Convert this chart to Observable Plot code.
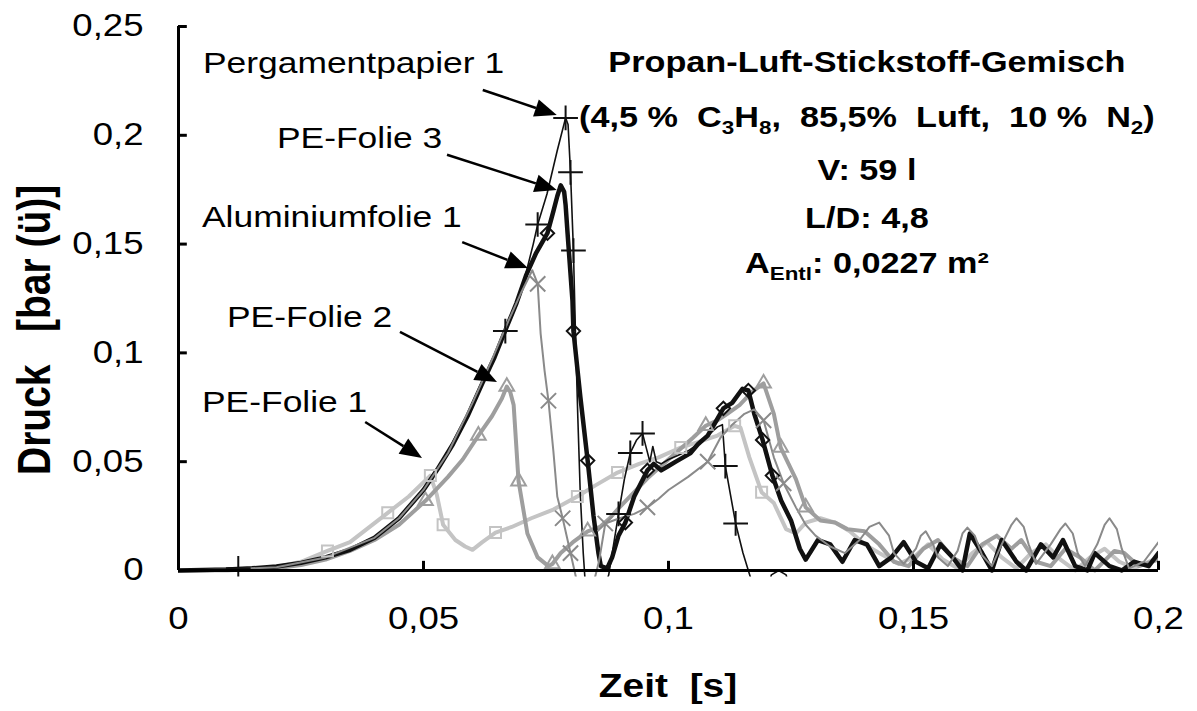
<!DOCTYPE html>
<html>
<head>
<meta charset="utf-8">
<script src="https://cdn.jsdelivr.net/npm/d3@7"></script>
<script src="https://cdn.jsdelivr.net/npm/@observablehq/plot@0.6"></script>
<style>
  body { margin: 0; background: #fff; }
  #chart svg { font-family: "Liberation Sans", Arial, sans-serif; }
</style>
</head>
<body>
<div id="chart"></div>
<script>
// Axis ticks (time in s, overpressure in bar)
const xTicks = [0, 0.05, 0.1, 0.15, 0.2];
const yTicks = [0, 0.05, 0.1, 0.15, 0.2, 0.25];

// Pressure curves [Zeit s, Druck bar(ü)] for each venting membrane
const pergamentpapier1 = [
  [0, 0], [0.005, 0], [0.01, 0.0005], [0.0122, 0.001], [0.015, 0.001], [0.02, 0.002], [0.025, 0.0035],
  [0.03, 0.006], [0.035, 0.0095], [0.04, 0.015], [0.045, 0.024], [0.05, 0.037], [0.053, 0.047],
  [0.056, 0.059], [0.059, 0.072], [0.062, 0.087], [0.0645, 0.099], [0.0667, 0.11], [0.069, 0.123],
  [0.0705, 0.133], [0.0724, 0.15], [0.0733, 0.159], [0.0752, 0.173], [0.0773, 0.193], [0.079, 0.208],
  [0.0795, 0.205], [0.08, 0.183], [0.0806, 0.147], [0.081, 0.11], [0.0815, 0.07], [0.082, 0.035],
  [0.0826, 0.008], [0.0832, -0.012], [0.086, -0.014], [0.0878, -0.002], [0.0888, 0.012], [0.0898, 0.026],
  [0.091, 0.042], [0.0922, 0.054], [0.0935, 0.06], [0.0947, 0.063], [0.0955, 0.056], [0.0962, 0.05],
  [0.0968, 0.057], [0.0975, 0.05], [0.0985, 0.049], [0.1, 0.051], [0.102, 0.053], [0.104, 0.055],
  [0.106, 0.058], [0.108, 0.062], [0.11, 0.066], [0.111, 0.067], [0.1116, 0.048], [0.1137, 0.0216],
  [0.1152, 0.008], [0.1167, -0.003], [0.118, -0.015], [0.1195, -0.015], [0.121, -0.002], [0.1225, 0.0],
  [0.124, -0.002], [0.1255, -0.015], [0.2, -0.015]
];
const peFolie3 = [
  [0, 0], [0.01, 0.0005], [0.015, 0.001], [0.02, 0.0018], [0.025, 0.0035], [0.03, 0.006], [0.035, 0.0095],
  [0.04, 0.015], [0.045, 0.024], [0.05, 0.037], [0.053, 0.047], [0.056, 0.058], [0.059, 0.071],
  [0.062, 0.086], [0.0645, 0.098], [0.067, 0.112], [0.069, 0.123], [0.071, 0.136], [0.073, 0.146],
  [0.0753, 0.155], [0.0765, 0.165], [0.0773, 0.172], [0.078, 0.177], [0.0787, 0.174], [0.079, 0.168],
  [0.0794, 0.155], [0.0804, 0.124], [0.0806, 0.11], [0.082, 0.08], [0.0835, 0.0505], [0.0847, 0.025],
  [0.0857, 0.008], [0.0862, 0.002], [0.0875, 0.001], [0.0885, 0.006], [0.0898, 0.016], [0.0912, 0.022],
  [0.093, 0.034], [0.0957, 0.046], [0.097, 0.049], [0.0985, 0.046], [0.1, 0.048], [0.1015, 0.05],
  [0.103, 0.052], [0.1045, 0.054], [0.106, 0.058], [0.108, 0.062], [0.1098, 0.069], [0.1112, 0.0745],
  [0.113, 0.077], [0.1151, 0.0835], [0.1163, 0.0827], [0.1175, 0.072], [0.1192, 0.06], [0.1212, 0.0436],
  [0.123, 0.032], [0.125, 0.023], [0.1268, 0.01], [0.128, 0.005], [0.1305, 0.014], [0.133, 0.012],
  [0.1355, 0.004], [0.138, 0.014], [0.1405, 0.012], [0.143, 0.002], [0.1455, 0.006], [0.148, 0.013],
  [0.1505, 0.004], [0.153, 0.001], [0.1555, 0.012], [0.158, 0.006], [0.16, 0.0], [0.1615, 0.017],
  [0.164, 0.008], [0.166, 0.0], [0.168, 0.014], [0.171, 0.004], [0.173, 0.0], [0.176, 0.012],
  [0.1785, 0.006], [0.1805, 0.014], [0.183, 0.002], [0.1855, 0.0], [0.187, 0.008], [0.19, 0.002],
  [0.1925, 0.0], [0.195, 0.004], [0.198, 0.002], [0.2, 0.008]
];
const aluminiumfolie1 = [
  [0, 0], [0.01, 0.0005], [0.02, 0.0015], [0.03, 0.006], [0.04, 0.015], [0.045, 0.024], [0.05, 0.037],
  [0.055, 0.054], [0.06, 0.077], [0.064, 0.097], [0.067, 0.113], [0.07, 0.128], [0.0722, 0.138],
  [0.0733, 0.1317], [0.0739, 0.109], [0.0747, 0.092], [0.0755, 0.078], [0.0765, 0.055], [0.0773, 0.034],
  [0.0784, 0.024], [0.08, 0.008], [0.081, -0.002], [0.082, -0.012], [0.084, -0.012], [0.0858, 0.004],
  [0.0871, 0.0216], [0.09, 0.024], [0.093, 0.026], [0.0957, 0.029], [0.098, 0.033], [0.1, 0.037],
  [0.104, 0.043], [0.108, 0.05], [0.1106, 0.061], [0.113, 0.067], [0.1155, 0.072], [0.1175, 0.074],
  [0.1194, 0.069], [0.1215, 0.052], [0.1235, 0.04], [0.126, 0.029], [0.128, 0.021], [0.13, 0.016],
  [0.133, 0.011], [0.136, 0.008], [0.139, 0.014], [0.141, 0.02], [0.143, 0.022], [0.145, 0.016], [0.146, 0.008],
  [0.148, 0.003], [0.1505, 0.01], [0.1515, 0.016], [0.1525, 0.018], [0.154, 0.012], [0.155, 0.006],
  [0.157, 0.002], [0.159, 0.009], [0.16, 0.017], [0.161, 0.0197], [0.1625, 0.016], [0.164, 0.007],
  [0.166, 0.002], [0.168, 0.012], [0.17, 0.021], [0.171, 0.024], [0.1725, 0.02], [0.1735, 0.012], [0.175, 0.003],
  [0.178, 0.012], [0.18, 0.019], [0.181, 0.0216], [0.1825, 0.017], [0.1835, 0.008], [0.185, 0.002],
  [0.1875, 0.012], [0.189, 0.021], [0.19, 0.024], [0.1915, 0.019], [0.1925, 0.01], [0.194, 0.001],
  [0.197, 0.004], [0.2, 0.013]
];
const peFolie2 = [
  [0, 0], [0.01, 0.0003], [0.02, 0.001], [0.025, 0.0025], [0.03, 0.005], [0.035, 0.009], [0.04, 0.014],
  [0.045, 0.021], [0.0504, 0.032], [0.055, 0.043], [0.058, 0.051], [0.0612, 0.062], [0.064, 0.071],
  [0.066, 0.079], [0.067, 0.0845], [0.0677, 0.082], [0.0684, 0.076], [0.0694, 0.041], [0.0712, 0.017],
  [0.0733, 0.006], [0.0755, 0.002], [0.0763, 0.003], [0.078, 0.008], [0.0805, 0.013], [0.0835, 0.018],
  [0.086, 0.02], [0.088, 0.024], [0.09, 0.029], [0.093, 0.036], [0.096, 0.043], [0.099, 0.049],
  [0.102, 0.055], [0.105, 0.061], [0.1076, 0.0665], [0.11, 0.069], [0.112, 0.072], [0.1145, 0.076],
  [0.117, 0.082], [0.1194, 0.086], [0.1215, 0.072], [0.1229, 0.0565], [0.1245, 0.049], [0.126, 0.042],
  [0.128, 0.029], [0.131, 0.023], [0.134, 0.022], [0.1365, 0.019], [0.14, 0.018], [0.143, 0.012],
  [0.146, 0.004], [0.149, 0.002], [0.152, 0.01], [0.155, 0.014], [0.158, 0.006], [0.161, 0.002],
  [0.164, 0.012], [0.167, 0.016], [0.17, 0.01], [0.172, 0.014], [0.175, 0.004], [0.178, 0.002],
  [0.181, 0.01], [0.184, 0.006], [0.187, 0.0], [0.191, 0.009], [0.193, 0.008], [0.196, 0.002],
  [0.2, 0.005]
];
const peFolie1 = [
  [0, 0], [0.01, 0], [0.015, 0.0008], [0.02, 0.0015], [0.025, 0.004], [0.0304, 0.009], [0.035, 0.013],
  [0.0427, 0.0265], [0.047, 0.034], [0.0514, 0.0436], [0.0527, 0.035], [0.054, 0.021], [0.0565, 0.014],
  [0.0585, 0.011], [0.06, 0.0095], [0.062, 0.013], [0.0647, 0.0174], [0.068, 0.02], [0.072, 0.024],
  [0.0765, 0.028], [0.0814, 0.034], [0.085, 0.039], [0.0896, 0.045], [0.094, 0.049], [0.098, 0.052],
  [0.1025, 0.0565], [0.106, 0.059], [0.11, 0.062], [0.1135, 0.0665], [0.1147, 0.0656], [0.1165, 0.052],
  [0.119, 0.036], [0.1215, 0.031], [0.124, 0.019], [0.126, 0.017], [0.128, 0.022], [0.131, 0.024],
  [0.134, 0.022], [0.137, 0.018], [0.14, 0.012], [0.143, 0.008], [0.147, 0.003], [0.15, 0.006],
  [0.153, 0.012], [0.156, 0.005], [0.159, 0.001], [0.162, 0.008], [0.165, 0.013], [0.168, 0.006],
  [0.171, 0.001], [0.174, 0.008], [0.177, 0.012], [0.18, 0.005], [0.183, 0.0], [0.186, 0.006],
  [0.189, 0.01], [0.192, 0.004], [0.195, 0.001], [0.198, 0.004], [0.2, 0.006]
];

// Marker points of each curve
const pergamentpapier1Markers = [
  [0.0122, 0.001], [0.0667, 0.11], [0.0733, 0.159], [0.079, 0.208], [0.08, 0.183], [0.0806, 0.147],
  [0.0898, 0.026], [0.0922, 0.054], [0.0947, 0.063], [0.1116, 0.048], [0.1137, 0.0216]
];
const peFolie3Markers = [
  [0.0753, 0.155], [0.0806, 0.11], [0.0835, 0.0505], [0.0912, 0.022], [0.0957, 0.046],
  [0.1112, 0.0745], [0.1163, 0.0827], [0.1192, 0.06], [0.1212, 0.0436]
];
const aluminiumfolie1Markers = [
  [0.0733, 0.1317], [0.0755, 0.078], [0.0784, 0.024], [0.08, 0.008], [0.0871, 0.0216],
  [0.0957, 0.029], [0.108, 0.05], [0.1194, 0.069], [0.1235, 0.04]
];
const peFolie2Markers = [
  [0.0504, 0.032], [0.0612, 0.062], [0.067, 0.0845], [0.0694, 0.041], [0.0763, 0.003],
  [0.0835, 0.018], [0.1076, 0.0665], [0.1194, 0.086], [0.1229, 0.0565], [0.128, 0.029]
];
const peFolie1Markers = [
  [0.0304, 0.009], [0.0427, 0.0265], [0.0514, 0.0436], [0.054, 0.021], [0.0647, 0.0174],
  [0.0814, 0.034], [0.0896, 0.045], [0.1025, 0.0565], [0.1135, 0.0665], [0.119, 0.036]
];

// Curve names used for the arrow labels
const seriesNames = ["Pergamentpapier 1", "PE-Folie 3", "Aluminiumfolie 1", "PE-Folie 2", "PE-Folie 1"];

// Test conditions
const infoLines = [
  [{t: "Propan-Luft-Stickstoff-Gemisch"}],
  [{t: "(4,5 %  C"}, {t: "3", sub: true}, {t: "H"}, {t: "8", sub: true}, {t: ",  85,5%  Luft,  10 %  N"}, {t: "2", sub: true}, {t: ")"}],
  [{t: "V: 59 l"}],
  [{t: "L/D: 4,8"}],
  [{t: "A"}, {t: "Entl", sub: true}, {t: ": 0,0227 m²"}]
];

// Styling per curve (drawn bottom to top)
const styles = [
  {data: peFolie1, markers: peFolie1Markers, stroke: "#c4c4c4", width: 4, symbol: "square2", r: 7},
  {data: peFolie2, markers: peFolie2Markers, stroke: "#9e9e9e", width: 4, symbol: "triangle2", r: 7},
  {data: peFolie3, markers: peFolie3Markers, stroke: "#111", width: 4.5, symbol: "diamond2", r: 6},
  {data: pergamentpapier1, markers: pergamentpapier1Markers, stroke: "#111", width: 1.6, symbol: "plus", r: 8},
  {data: aluminiumfolie1, markers: aluminiumfolie1Markers, stroke: "#8a8a8a", width: 2, symbol: "times", r: 7}
];

// Annotation layout in chart units: label anchor (left, baseline), arrow tail and arrow tip
const labelLayout = [
  {x: 0.0051, y: 0.2284, tail: [0.0622, 0.2206], tip: [0.0773, 0.2091]},
  {x: 0.0202, y: 0.1939, tail: [0.0549, 0.1908], tip: [0.0773, 0.1746]},
  {x: 0.0049, y: 0.1576, tail: [0.058, 0.1507], tip: [0.0714, 0.1388]},
  {x: 0.01, y: 0.1117, tail: [0.0453, 0.1094], tip: [0.0651, 0.0864]},
  {x: 0.0049, y: 0.0726, tail: [0.0382, 0.068], tip: [0.0498, 0.0515]}
];
const infoX = 0.1406;
const infoBaselines = [0.2289, 0.2036, 0.1792, 0.1572, 0.1365];

const fmt = d => d === 0 ? "0" : String(d).replace(".", ",");
const toPts = arr => arr.map(([x, y]) => ({x, y}));

const marks = [];
for (const s of styles) {
  marks.push(Plot.line(toPts(s.data), {x: "x", y: "y", stroke: s.stroke, strokeWidth: s.width, strokeLinejoin: "round", clip: true}));
}
for (const s of styles) {
  marks.push(Plot.dot(toPts(s.markers), {x: "x", y: "y", symbol: () => s.symbol, r: s.r, stroke: s.stroke, strokeWidth: 2, fill: "none", clip: true}));
}
// axis lines and inward ticks
marks.push(Plot.ruleY([0], {x1: 0, x2: 0.2, stroke: "#000", strokeWidth: 3}));
marks.push(Plot.ruleX([0], {y1: 0, y2: 0.25, stroke: "#000", strokeWidth: 3}));
marks.push(Plot.ruleX(xTicks.filter(d => d > 0), {y1: 0, y2: 0.0042, stroke: "#000", strokeWidth: 3}));
marks.push(Plot.ruleY(yTicks.filter(d => d > 0), {x1: 0, x2: 0.0018, stroke: "#000", strokeWidth: 3}));

const chart = Plot.plot({
  width: 1197,
  height: 711,
  marginLeft: 178,
  marginRight: 39,
  marginTop: 26,
  marginBottom: 134.5,
  style: {fontSize: "31px", fontFamily: "'Liberation Sans', Arial, sans-serif", color: "#000", background: "#fff"},
  x: {domain: [0, 0.2], ticks: xTicks, tickFormat: fmt, tickSize: 0, tickPadding: 30, label: null},
  y: {domain: [-0.003, 0.25], ticks: yTicks, tickFormat: fmt, tickSize: 0, tickPadding: 35, label: null},
  marks
});
document.getElementById("chart").appendChild(chart);

const sx = chart.scale("x").apply, sy = chart.scale("y").apply;
const svg = d3.select(chart);
const ann = svg.append("g").attr("fill", "#000");

// Curve labels with filled arrows
labelLayout.forEach((L, i) => {
  ann.append("text").attr("class", "wide").attr("x", sx(L.x)).attr("y", sy(L.y))
    .attr("text-anchor", "start").attr("font-size", 30).text(seriesNames[i]);
  const x1 = sx(L.tail[0]), y1 = sy(L.tail[1]), x2 = sx(L.tip[0]), y2 = sy(L.tip[1]);
  const a = Math.atan2(y2 - y1, x2 - x1), hl = 22, hw = 9;
  const bx = x2 - hl * Math.cos(a), by = y2 - hl * Math.sin(a);
  ann.append("line").attr("x1", x1).attr("y1", y1).attr("x2", bx).attr("y2", by)
    .attr("stroke", "#000").attr("stroke-width", 2.5);
  ann.append("path").attr("d",
    `M${x2},${y2}L${bx + hw * Math.sin(a)},${by - hw * Math.cos(a)}L${bx - hw * Math.sin(a)},${by + hw * Math.cos(a)}Z`);
});

// Test condition block
infoLines.forEach((parts, i) => {
  const t = ann.append("text").attr("class", "wide").attr("x", sx(infoX)).attr("y", sy(infoBaselines[i]))
    .attr("text-anchor", "middle").attr("font-weight", "bold").attr("font-size", 29);
  let shifted = false;
  for (const p of parts) {
    const ts = t.append("tspan").text(p.t);
    if (p.sub && !shifted) { ts.attr("dy", 7).attr("font-size", 19); shifted = true; }
    else if (!p.sub && shifted) { ts.attr("dy", -7); shifted = false; }
    else if (p.sub) ts.attr("font-size", 19);
  }
});

// Axis titles
const [fx0, fx1] = chart.scale("x").range;
ann.append("text").attr("class", "wide").attr("x", (fx0 + fx1) / 2).attr("y", 697)
  .attr("text-anchor", "middle").attr("font-weight", "bold").attr("font-size", 33).text("Zeit  [s]");
ann.append("text").attr("transform", `translate(50,475) scale(1.18,1) rotate(-90)`)
  .attr("text-anchor", "start").attr("font-weight", "bold").attr("font-size", 39).text("Druck   [bar (ü)]");

// Widen the lettering horizontally
const STRETCH = 1.18;
svg.selectAll("g[aria-label$='axis'] text, g[aria-label*='tick label'] text, text.wide").each(function () {
  const w = this.getComputedTextLength();
  this.setAttribute("textLength", w * STRETCH);
  this.setAttribute("lengthAdjust", "spacingAndGlyphs");
});
</script>
</body>
</html>
